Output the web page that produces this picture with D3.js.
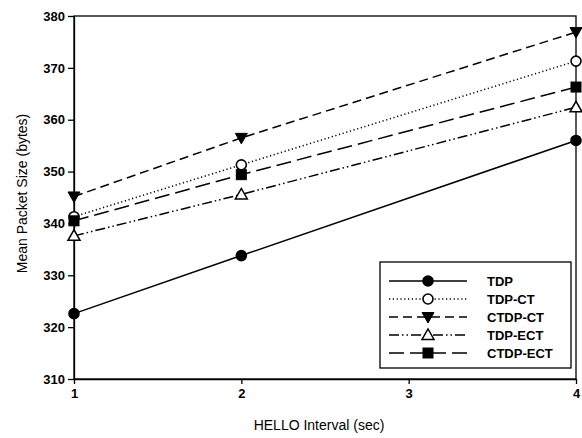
<!DOCTYPE html>
<html>
<head>
<meta charset="utf-8">
<script src="https://cdn.jsdelivr.net/npm/d3@7"></script>
<style>
  html, body { margin: 0; padding: 0; background: #fff; }
  svg { display: block; font-family: "Liberation Sans", Arial, sans-serif; }
</style>
</head>
<body>
<svg id="chart" width="582" height="438"></svg>
<script>
// HELLO interval (sec) at which each protocol was measured
const intervals = [1, 2, 4];
const xTicks = [1, 2, 3, 4];
const yTicks = [310, 320, 330, 340, 350, 360, 370, 380];

// Mean packet size (bytes) per protocol
const seriesNames = ["TDP", "TDP-CT", "CTDP-CT", "TDP-ECT", "CTDP-ECT"];
const tdp     = [322.6, 333.8, 356.0];
const tdpCt   = [341.3, 351.3, 371.3];
const ctdpCt  = [345.2, 356.5, 376.9];
const tdpEct  = [337.6, 345.6, 362.4];
const ctdpEct = [340.5, 349.4, 366.3];

const series = [
  { name: seriesNames[0], values: tdp,     dash: null,                 marker: "circle",   fill: "#000" },
  { name: seriesNames[1], values: tdpCt,   dash: "1.2,2.6",            marker: "circle",   fill: "#fff" },
  { name: seriesNames[2], values: ctdpCt,  dash: "9,5",                marker: "triDown",  fill: "#000" },
  { name: seriesNames[3], values: tdpEct,  dash: "10,3,1.5,3,1.5,3",   marker: "triUp",    fill: "#fff" },
  { name: seriesNames[4], values: ctdpEct, dash: "15,6",               marker: "square",   fill: "#000" }
];

const svg = d3.select("#chart");
const plotLeft = 74, plotRight = 576, plotTop = 16, plotBottom = 379;

const x = d3.scaleLinear().domain([1, 4]).range([plotLeft, plotRight]);
const y = d3.scaleLinear().domain([310, 380]).range([plotBottom, plotTop]);

// Plot frame
svg.append("rect")
  .attr("x", plotLeft).attr("y", plotTop)
  .attr("width", plotRight - plotLeft).attr("height", plotBottom - plotTop)
  .attr("fill", "none").attr("stroke", "#000").attr("stroke-width", 1.3);

// Axes
const xAxis = svg.append("g")
  .attr("transform", `translate(0,${plotBottom})`)
  .call(d3.axisBottom(x).tickValues(xTicks).tickFormat(d3.format("d")).tickSizeOuter(0).tickSizeInner(5).tickPadding(5));
const yAxis = svg.append("g")
  .attr("transform", `translate(${plotLeft},0)`)
  .call(d3.axisLeft(y).tickValues(yTicks).tickFormat(d3.format("d")).tickSizeOuter(0).tickSizeInner(6).tickPadding(3));

[xAxis, yAxis].forEach(g => {
  g.select(".domain").attr("stroke", "#000").attr("stroke-width", 1.3);
  g.selectAll(".tick line").attr("stroke", "#000").attr("stroke-width", 1.3);
  g.selectAll(".tick text")
    .attr("fill", "#000")
    .style("font-family", "'Liberation Sans', Arial, sans-serif")
    .style("font-size", "13px")
    .style("font-weight", "bold");
});

// Axis titles
svg.append("text")
  .attr("x", (plotLeft + plotRight) / 2 - 6).attr("y", 430)
  .attr("text-anchor", "middle")
  .style("font-size", "14px")
  .text("HELLO Interval (sec)");

svg.append("text")
  .attr("transform", `translate(27,${(plotTop + plotBottom) / 2 - 4}) rotate(-90)`)
  .attr("text-anchor", "middle")
  .style("font-size", "14px")
  .text("Mean Packet Size (bytes)");

// Marker drawing helper
function drawMarker(g, type, fill, cx, cy) {
  if (type === "circle") {
    g.append("circle").attr("cx", cx).attr("cy", cy).attr("r", 5)
      .attr("fill", fill).attr("stroke", "#000").attr("stroke-width", 1.6);
  } else if (type === "square") {
    g.append("rect").attr("x", cx - 5).attr("y", cy - 5).attr("width", 10).attr("height", 10)
      .attr("fill", fill).attr("stroke", "#000").attr("stroke-width", 1);
  } else if (type === "triDown") {
    g.append("path").attr("d", `M${cx - 6},${cy - 4.5}L${cx + 6},${cy - 4.5}L${cx},${cy + 6}Z`)
      .attr("fill", fill).attr("stroke", "#000").attr("stroke-width", 1);
  } else if (type === "triUp") {
    g.append("path").attr("d", `M${cx - 6},${cy + 4.5}L${cx + 6},${cy + 4.5}L${cx},${cy - 6}Z`)
      .attr("fill", fill).attr("stroke", "#000").attr("stroke-width", 1.5);
  }
}

const line = d3.line().x((d, i) => x(intervals[i])).y(d => y(d));

// Series lines and markers
series.forEach(s => {
  const g = svg.append("g");
  g.append("path")
    .datum(s.values)
    .attr("d", line)
    .attr("fill", "none")
    .attr("stroke", "#000")
    .attr("stroke-width", 1.5)
    .attr("stroke-dasharray", s.dash);
  s.values.forEach((v, i) => drawMarker(g, s.marker, s.fill, x(intervals[i]), y(v)));
});

// Legend
const legend = svg.append("g");
legend.append("rect")
  .attr("x", 380).attr("y", 262).attr("width", 191).attr("height", 106)
  .attr("fill", "#fff").attr("stroke", "#000").attr("stroke-width", 1.3);

series.forEach((s, i) => {
  const ly = 281 + i * 18;
  legend.append("line")
    .attr("x1", 389).attr("x2", 467).attr("y1", ly).attr("y2", ly)
    .attr("stroke", "#000").attr("stroke-width", 1.5)
    .attr("stroke-dasharray", s.dash);
  drawMarker(legend, s.marker, s.fill, 428, ly);
  legend.append("text")
    .attr("x", 487).attr("y", ly + 4.5)
    .style("font-size", "13px")
    .style("font-weight", "bold")
    .text(s.name);
});
</script>
</body>
</html>
